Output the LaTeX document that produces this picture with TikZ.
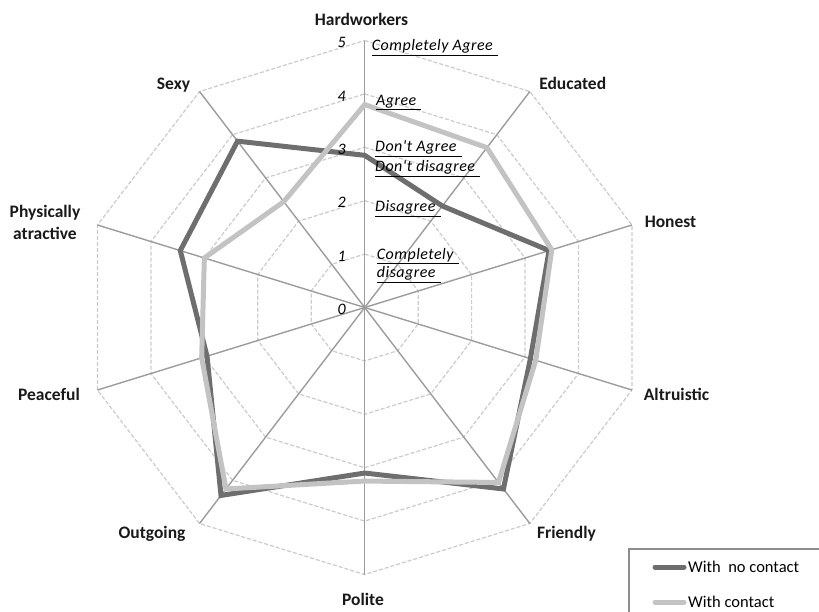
\documentclass[tikz,border=0pt]{standalone}
\usepackage{fontspec}
\setmainfont{Carlito}
\newfontfamily\scalefont{Carlito}[LetterSpace=3]
\usetikzlibrary{positioning}
\definecolor{nocontact}{HTML}{6E6E6E}
\definecolor{withcontact}{HTML}{C3C3C3}
\definecolor{ringgray}{HTML}{CBCBCB}
\definecolor{axisgray}{HTML}{9C9C9C}
\tikzset{
	ring/.style={ringgray, line width=1.2pt, dash pattern=on 4pt off 2pt},
	spoke/.style={axisgray, line width=1.4pt},
	series/.style={line width=5pt, line join=miter},
	catlabel/.style={font=\fontsize{17.5}{21}\selectfont\bfseries, text=black!90, inner sep=0pt, anchor=base},
	scalelabel/.style={font=\scalefont\fontsize{16}{19}\selectfont\itshape, inner sep=0pt, anchor=base west},
	ticklabel/.style={font=\fontsize{16}{19}\selectfont\itshape, inner sep=0pt},
	legendtext/.style={font=\fontsize{16.5}{19}\selectfont, inner sep=0pt, anchor=base west},
	legendframe/.style={draw=black!45, line width=1.2pt}
}
\newcommand{\ulab}[1]{\underline{#1\hspace{5pt}}}

\begin{document}
\begin{tikzpicture}[x=1pt,y=1pt]
	\useasboundingbox (0,0) rectangle (819,-611);
	\begin{scope}[shift={(364.7pt,-307.5pt)}, x=56.2pt, y=53.4pt]
		\coordinate (ctr) at (0,0);
		\foreach \r in {1,...,5}
			\draw[ring] (90:\r) \foreach \a in {54,18,...,-234} { -- (\a:\r)} -- cycle;
		\foreach \a [count=\i] in {90,54,...,-234} {
			\coordinate (tip\i) at (\a:5);
			\draw[spoke] (ctr) -- (tip\i);}
		\foreach \v [count=\i] in {2.85,2.35,3.45,3.1,4.2,3.1,4.35,2.95,3.45,3.85}
			\coordinate (nc\i) at ({126-36*\i}:\v);
		\foreach \v [count=\i] in {3.8,3.7,3.5,3.2,4.05,3.25,4.2,3.05,3.0,2.45}
			\coordinate (wc\i) at ({126-36*\i}:\v);
		\draw[series, nocontact] (nc1) \foreach \i in {2,...,10} { -- (nc\i)} -- cycle;
		\draw[series, withcontact] (wc1) \foreach \i in {2,...,10} { -- (wc\i)} -- cycle;
	\end{scope}
	\foreach \k in {0,...,5}
		\node[ticklabel] (tick\k) at (341.7,{-309.5+53.4*\k}) {\k};
	\node[scalelabel] (complAgree) at (371.7,-50.7) {\ulab{Completely Agree}};
	\node[scalelabel] (agree) at (376,-105) {\ulab{Agree}};
	\node[scalelabel] (dontAgree) at (375,-151.7) {\ulab{Don't Agree}};
	\node[scalelabel] (dontDisagree) at (375,-171.7) {\ulab{Don't disagree}};
	\node[scalelabel] (disagree) at (375,-211.7) {\ulab{Disagree}};
	\node[scalelabel] (complDis) at (376.7,-259) {\ulab{Completely}};
	\node[scalelabel] (complDisB) at (376.7,-277.7) {\ulab{disagree}};
	\node[catlabel] (hardworkers) at (361.5,-25.5) {Hardworkers};
	\node[catlabel] (educated) at (572.7,-89.5) {Educated};
	\node[catlabel] (honest) at (670.5,-227.5) {Honest};
	\node[catlabel] (altruistic) at (676.5,-400.5) {Altruistic};
	\node[catlabel] (friendly) at (566.5,-538.5) {Friendly};
	\node[catlabel] (polite) at (363,-605.5) {Polite};
	\node[catlabel] (outgoing) at (152,-538.5) {Outgoing};
	\node[catlabel] (peaceful) at (49,-400.5) {Peaceful};
	\node[catlabel] (physically) at (45,-217.5) {Physically};
	\node[catlabel] (atractive) at (45,-239.5) {atractive};
	\node[catlabel] (sexy) at (173.5,-89.5) {Sexy};
	\draw[legendframe] (629,-549) rectangle (830,-625);
	\coordinate (ncKeyA) at (655,-567);
	\coordinate (ncKeyB) at (684,-567);
	\coordinate (wcKeyA) at (655,-602);
	\coordinate (wcKeyB) at (684,-602);
	\draw[series, nocontact, line cap=round] (ncKeyA) -- (ncKeyB);
	\draw[series, withcontact, line cap=round] (wcKeyA) -- (wcKeyB);
	\node[legendtext] (ncText) at (688,-572) {With~~no contact};
	\node[legendtext] (wcText) at (688,-607) {With contact};
\end{tikzpicture}
\end{document}
